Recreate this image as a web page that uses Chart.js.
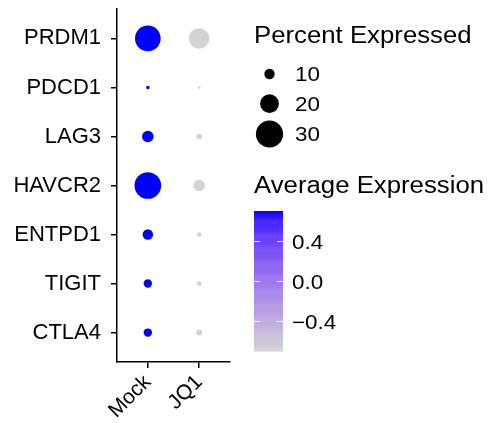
<!DOCTYPE html>
<html><head><meta charset="utf-8">
<script src="https://cdn.jsdelivr.net/npm/chart.js@4.4.1/dist/chart.umd.min.js"></script>
<style>html,body{margin:0;padding:0;background:#fff;overflow:hidden}</style>
</head><body>
<canvas id="c" width="492" height="423"></canvas>
<script>
// ---- data ----
const genes = ['PRDM1','PDCD1','LAG3','HAVCR2','ENTPD1','TIGIT','CTLA4'];
const groups = ['Mock','JQ1'];
const pctMock = [28.1, 1.7, 11.4, 29.3, 10.0, 7.6, 7.6];
const pctJQ1  = [22.1, 0.7, 4.3, 11.4, 3.1, 3.1, 4.8];
const avgExpMock = [0.707, 0.707, 0.707, 0.707, 0.707, 0.707, 0.707];
const avgExpJQ1  = [-0.707, -0.707, -0.707, -0.707, -0.707, -0.707, -0.707];
const sizeBreaks = [10, 20, 30];
const colorBreaks = [0.4, 0.0, -0.4];
const colorBreakLabels = ['0.4', '0.0', '\u22120.4'];
const colorLimits = [-0.7071, 0.7071];
const sizeTitle = 'Percent Expressed';
const colorTitle = 'Average Expression';

const FONT = '"Liberation Sans", Arial, Helvetica, sans-serif';
const LOW = [211,211,211], HIGH = [0,0,255];

// ---- Lab colour interpolation (like ggplot scale_colour_gradient) ----
function s2l(c){c/=255;return c<=0.04045?c/12.92:Math.pow((c+0.055)/1.055,2.4);}
function l2s(c){const v=c<=0.0031308?12.92*c:1.055*Math.pow(c,1/2.4)-0.055;return Math.round(Math.max(0,Math.min(1,v))*255);}
const Xn=0.95047,Yn=1,Zn=1.08883;
function f(t){return t>0.008856?Math.cbrt(t):7.787*t+16/116;}
function fi(t){const t3=t*t*t;return t3>0.008856?t3:(t-16/116)/7.787;}
function rgb2lab(c){const R=s2l(c[0]),G=s2l(c[1]),B=s2l(c[2]);
  const X=(0.4124564*R+0.3575761*G+0.1804375*B)/Xn,Y=(0.2126729*R+0.7151522*G+0.0721750*B)/Yn,Z=(0.0193339*R+0.1191920*G+0.9503041*B)/Zn;
  const fx=f(X),fy=f(Y),fz=f(Z);return [116*fy-16,500*(fx-fy),200*(fy-fz)];}
function lab2rgb(l){const fy=(l[0]+16)/116,fx=fy+l[1]/500,fz=fy-l[2]/200;
  const X=fi(fx)*Xn,Y=fi(fy)*Yn,Z=fi(fz)*Zn;
  const R=3.2404542*X-1.5371385*Y-0.4985314*Z,G=-0.9692660*X+1.8760108*Y+0.0415560*Z,B=0.0556434*X-0.2040259*Y+1.0572252*Z;
  return [l2s(R),l2s(G),l2s(B)];}
const labLo=rgb2lab(LOW),labHi=rgb2lab(HIGH);
function colourFor(v){let t=(v-colorLimits[0])/(colorLimits[1]-colorLimits[0]);t=Math.max(0,Math.min(1,t));
  if(t<=0.0001)return 'rgb('+LOW.join(',')+')'; if(t>=0.9999)return 'rgb('+HIGH.join(',')+')';
  const c=lab2rgb([0,1,2].map(i=>labLo[i]+(labHi[i]-labLo[i])*t));return 'rgb('+c.join(',')+')';}
function radiusFor(p){return 1+0.42*p;}

function mk(gi, pcts, avgs){
  return {
    label: groups[gi],
    data: genes.map((g,i)=>({x: gi+1, y: i+1, pct: pcts[i], avg: avgs[i]})),
    pointRadius: ctx => radiusFor(ctx.raw.pct),
    pointBackgroundColor: ctx => colourFor(ctx.raw.avg),
    pointBorderWidth: 0,
    pointBorderColor: 'rgba(0,0,0,0)'
  };
}

const SX = 1.12; // horizontal text stretch seen in the reference
function wideText(ctx, txt, x, y){
  ctx.save(); ctx.translate(x, y); ctx.scale(SX, 1); ctx.fillText(txt, 0, 0); ctx.restore();
}

const legendPlugin = {
  id: 'ggLegend',
  afterDraw(chart){
    const ctx = chart.ctx;
    ctx.save();
    ctx.fillStyle = '#000';
    ctx.textAlign = 'left';
    ctx.textBaseline = 'alphabetic';
    ctx.font = '23px ' + FONT;
    wideText(ctx, sizeTitle, 254, 43);
    const dotY = [74, 103.7, 134];
    ctx.font = '20px ' + FONT;
    sizeBreaks.forEach((b,i)=>{
      ctx.beginPath(); ctx.arc(269.5, dotY[i], radiusFor(b), 0, Math.PI*2); ctx.fillStyle='#000'; ctx.fill();
      wideText(ctx, String(b), 295, dotY[i]+7);
    });
    ctx.font = '23px ' + FONT;
    wideText(ctx, colorTitle, 254, 193);
    // colour bar
    const x0=254, w=29, y0v=281, ppu=99;
    const yTop = y0v - ppu*colorLimits[1], yBot = y0v - ppu*colorLimits[0];
    const n = 150;
    for(let i=0;i<n;i++){
      const ya = yTop + (yBot-yTop)*i/n, yb = yTop + (yBot-yTop)*(i+1)/n;
      const v = colorLimits[1] - (colorLimits[1]-colorLimits[0])*(i+0.5)/n;
      ctx.fillStyle = colourFor(v);
      ctx.fillRect(x0, ya, w, yb-ya+0.5);
    }
    ctx.strokeStyle = '#fff'; ctx.lineWidth = 1;
    ctx.font = '20px ' + FONT;
    colorBreaks.forEach((b,i)=>{
      const y = Math.round(y0v - ppu*b)+0.5;
      ctx.beginPath(); ctx.moveTo(x0,y); ctx.lineTo(x0+6,y); ctx.moveTo(x0+w-6,y); ctx.lineTo(x0+w,y); ctx.stroke();
      ctx.fillStyle='#000';
      wideText(ctx, colorBreakLabels[i], 292, y + 7.5);
    });
    ctx.restore();
  }
};

new Chart(document.getElementById('c'), {
  type: 'scatter',
  data: { datasets: [ mk(0, pctMock, avgExpMock), mk(1, pctJQ1, avgExpJQ1) ] },
  options: {
    responsive: false, animation: false, devicePixelRatio: 1, events: [],
    layout: { autoPadding: false, padding: { top: 9, right: 262, left: 0, bottom: 0 } },
    plugins: { legend: { display: false }, tooltip: { enabled: false } },
    scales: {
      x: {
        type: 'linear', min: 0.4, max: 2.6,
        afterBuildTicks: s => { s.ticks = groups.map((g,i)=>({value: i+1})); },
        afterFit: s => { s.height = 61; s.paddingLeft = 0; s.paddingRight = 0; },
        ticks: { autoSkip: false, maxRotation: 45, minRotation: 45, padding: 2, color: '#000',
                 font: { size: 21, family: FONT }, callback: v => groups[Math.round(v)-1] },
        grid: { drawOnChartArea: false, drawTicks: true, tickLength: 6, color: '#000', lineWidth: 1.5 },
        border: { display: true, color: '#000', width: 1.5 }
      },
      y: {
        type: 'linear', min: 0.4, max: 7.6, reverse: true,
        afterBuildTicks: s => { s.ticks = genes.map((g,i)=>({value: i+1})); },
        afterFit: s => { s.width = 117; s.paddingTop = 0; s.paddingBottom = 0; },
        ticks: { autoSkip: false, padding: 10, color: '#000',
                 font: { size: 22, family: FONT }, callback: v => genes[Math.round(v)-1] },
        grid: { drawOnChartArea: false, drawTicks: true, tickLength: 6, color: '#000', lineWidth: 1.5 },
        border: { display: true, color: '#000', width: 1.5 }
      }
    }
  },
  plugins: [legendPlugin]
});
</script>
</body></html>
